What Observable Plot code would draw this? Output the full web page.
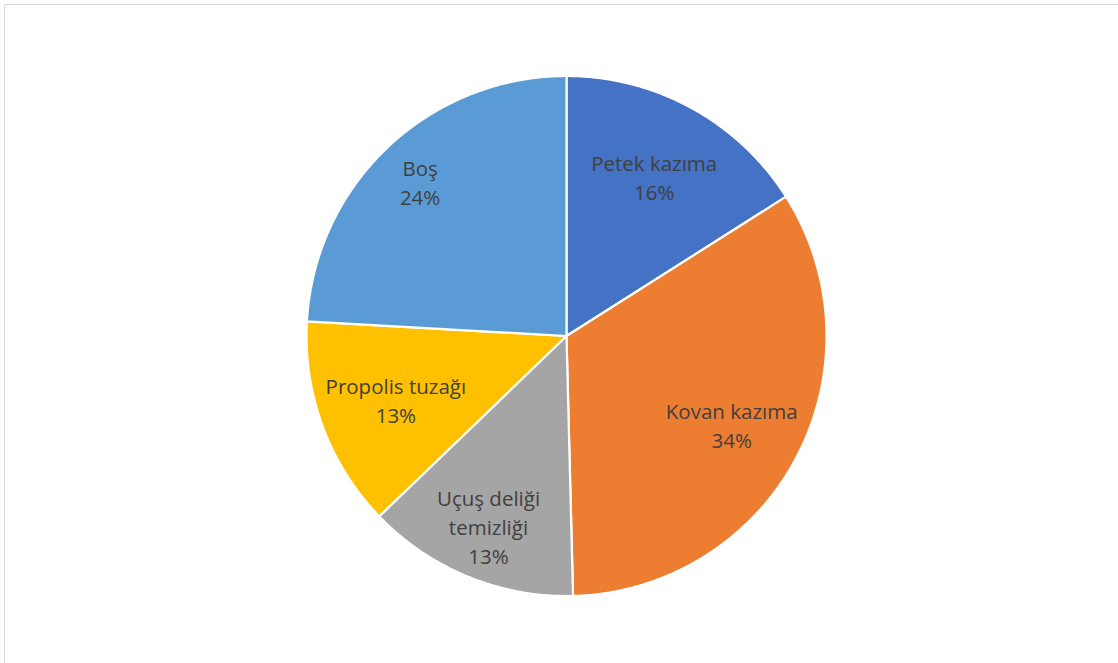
<!DOCTYPE html>
<html>
<head>
<meta charset="utf-8">
<script src="https://cdn.jsdelivr.net/npm/d3@7"></script>
<script src="https://cdn.jsdelivr.net/npm/@observablehq/plot@0.6"></script>
<style>
  html, body { margin: 0; padding: 0; background: #fff; }
  #wrap { position: relative; width: 1118px; height: 663px; overflow: hidden; }
  #frame { position: absolute; left: 4px; top: 4px; width: 1130px; height: 680px; border: 1.5px solid #d9d9d9; box-sizing: border-box; }
  #chart { position: absolute; left: 0; top: 0; }
</style>
</head>
<body>
<div id="wrap"><div id="frame"></div><div id="chart"></div></div>
<script>
// Data (clockwise from 12 o'clock)
const categories = ["Petek kazıma", "Kovan kazıma", "Uçuş deliği temizliği", "Propolis tuzağı", "Boş"];
const displayNames = ["Petek kazıma", "Kovan kazıma", "Uçuş deliği\ntemizliği", "Propolis tuzağı", "Boş"];
const values = [16.0, 33.6, 13.2, 13.1, 24.1];
const colors = ["#4472C4", "#ED7D31", "#A5A5A5", "#FFC000", "#5B9BD5"];
// label distance from centre, as a fraction of the radius (styling)
const labelRadius = [0.70, 0.72, 0.79, 0.70, 0.82];

const total = d3.sum(values);
const pie = d3.pie().sort(null).value(d => d)(values);

// slice outlines as polygons in a unit coordinate space (y up)
const polys = [];
pie.forEach((s, i) => {
  const cat = categories[i];
  polys.push({cat, x: 0, y: 0});
  const n = Math.max(2, Math.ceil((s.endAngle - s.startAngle) / (Math.PI / 360)));
  for (let k = 0; k <= n; k++) {
    const a = s.startAngle + (s.endAngle - s.startAngle) * k / n;
    polys.push({cat, x: Math.sin(a), y: Math.cos(a)});
  }
  polys.push({cat, x: 0, y: 0});
});

const labels = pie.map((s, i) => {
  const a = (s.startAngle + s.endAngle) / 2;
  const r = labelRadius[i];
  return {
    text: displayNames[i] + "\n" + Math.round(values[i] / total * 100) + "%",
    x: r * Math.sin(a),
    y: r * Math.cos(a)
  };
});

const font = "'Open Sans', Lato, sans-serif";
const chart = Plot.plot({
  width: 1118,
  height: 663,
  marginLeft: 306,
  marginRight: 292,
  marginTop: 75.5,
  marginBottom: 67.5,
  x: {domain: [-1, 1], axis: null},
  y: {domain: [-1, 1], axis: null},
  color: {domain: categories, range: colors},
  style: {background: "transparent", fontFamily: font},
  marks: [
    Plot.line(polys, {x: "x", y: "y", z: "cat", fill: "cat", stroke: "white", strokeWidth: 2.2, strokeLinejoin: "miter", curve: "linear"}),
    Plot.text(labels, {x: "x", y: "y", text: "text", fontSize: 20.5, lineHeight: 1.42, fill: "#404040", fontFamily: font})
  ]
});
document.getElementById("chart").appendChild(chart);
</script>
</body>
</html>
